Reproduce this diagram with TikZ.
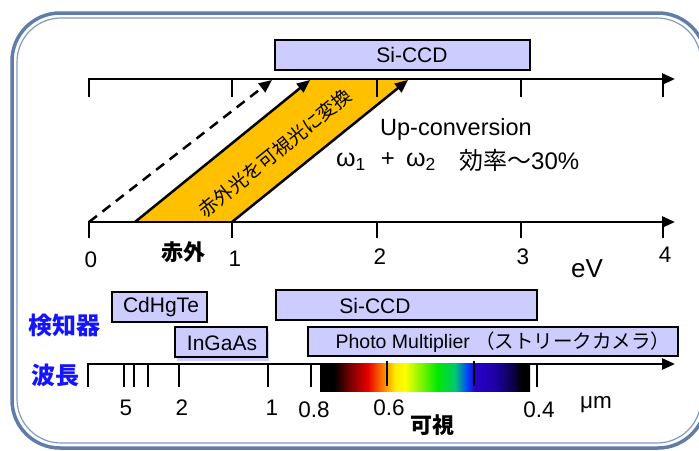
\documentclass[tikz,border=0pt]{standalone}
\usepackage{fontspec}
\setmainfont{Liberation Sans}
\newfontfamily\cjk{Noto Sans CJK JP}
\usetikzlibrary{arrows.meta}
\definecolor{lav}{RGB}{204,204,255}
\definecolor{bandc}{RGB}{255,192,0}
\definecolor{frameA}{RGB}{96,124,168}
\definecolor{frameB}{RGB}{130,155,195}
\definecolor{lblue}{RGB}{20,20,255}
\definecolor{s1}{RGB}{120,0,0}
\definecolor{s2}{RGB}{230,0,0}
\definecolor{s3}{RGB}{255,120,0}
\definecolor{s4}{RGB}{255,235,0}
\definecolor{s5}{RGB}{255,255,0}
\definecolor{s6}{RGB}{0,235,0}
\definecolor{s7}{RGB}{0,200,110}
\definecolor{s8}{RGB}{0,70,255}
\definecolor{s9}{RGB}{40,0,200}
\definecolor{s10}{RGB}{30,0,165}
\definecolor{s11}{RGB}{10,0,60}
\pgfdeclarehorizontalshading{spectrum}{100bp}{color(0bp)=(black); color(25bp)=(black); color(28.3bp)=(black); color(32.1bp)=(s1); color(36.4bp)=(s2); color(39.8bp)=(s3); color(42.9bp)=(s4); color(45.2bp)=(s5); color(52.9bp)=(s6); color(57.1bp)=(s7); color(60bp)=(s8); color(61.9bp)=(s9); color(66.7bp)=(s10); color(71.4bp)=(s11); color(72.9bp)=(black); color(75bp)=(black); color(100bp)=(black)}
\begin{document}
\begin{tikzpicture}[x=1pt,y=-1pt,
  ax/.style={line width=2.8pt, line join=miter},
  tipd/.style={-{Triangle[length=13pt,width=11pt]}},
  box/.style={draw, line width=2.8pt, fill=lav},
  lbl/.style={font=\fontsize{21}{24}\selectfont, inner sep=0pt},
  num/.style={font=\fontsize{22.5}{25}\selectfont, inner sep=0pt},
  jbold/.style={font=\cjk\bfseries\fontsize{22}{25}\selectfont, inner sep=0pt},
  jblue/.style={font=\cjk\bfseries\fontsize{24}{27}\selectfont, text=lblue, inner sep=0pt},
  omg/.style={font=\fontsize{25}{28}\selectfont, inner sep=0pt, anchor=west}]
\useasboundingbox (0,0) rectangle (699,450);
% frame
\draw[line width=3.5pt, frameA, rounded corners=48pt] (12,13) rectangle (706,448);
\draw[line width=1.2pt, frameB, rounded corners=44pt] (17,18) rectangle (701,443);
% top Si-CCD
\draw[box] (275,40) rectangle (530,70);
\node[lbl] (sitop) at (412,55) {Si-CCD};
% band
\coordinate (bl) at (135,222);
\coordinate (br) at (232,222);
\coordinate (tl) at (310,80);
\coordinate (tr) at (408,80);
\coordinate (d0) at (89,222);
\coordinate (d1) at (272,80);
\fill[bandc] (bl) -- (br) -- (tr) -- (tl) -- cycle;
\draw[line width=2.5pt, tipd] (bl) -- (tl);
\draw[line width=2.5pt, tipd] (br) -- (tr);
\draw[line width=2.5pt, dash pattern=on 10pt off 7pt, tipd] (d0) -- (d1);
\node[font=\cjk\fontsize{19}{22}\selectfont, rotate=39, inner sep=0pt] (conv) at (275,153) {赤外光を可視光に変換};
% top axis
\coordinate (ta0) at (89,79);
\coordinate (ta1) at (675,79);
\draw[ax, tipd] (89,97) -- (ta0) -- (ta1);
\foreach \x in {232,377,521,663} \draw[ax] (\x,79) -- (\x,97);
% bottom eV axis
\coordinate (ba0) at (89,222);
\coordinate (ba1) at (675,222);
\draw[ax, tipd] (89,238) -- (ba0) -- (ba1);
\foreach \x in {232,377,521,663} \draw[ax] (\x,222) -- (\x,238);
\node[num] (e0) at (91,260) {0};
\node[num] (e1) at (235,259) {1};
\node[num] (e2) at (380,257) {2};
\node[num] (e3) at (523,257) {3};
\node[num] (e4) at (665,255) {4};
\node[font=\fontsize{26}{29}\selectfont, inner sep=0pt] (ev) at (587,269) {eV};
\node[jbold] (ir) at (183,252) {赤外};
% up-conversion text
\node[font=\fontsize{23.5}{26}\selectfont, inner sep=0pt, anchor=west] (up) at (380,129) {Up-conversion};
\node[omg] (w1) at (336,162) {ω\textsubscript{1}};
\node[font=\fontsize{24}{27}\selectfont, inner sep=0pt] (plus) at (388,160) {+};
\node[omg] (w2) at (406,162) {ω\textsubscript{2}};
\node[font=\fontsize{24}{27}\selectfont, inner sep=0pt, anchor=west] (eff) at (459,160) {{\cjk 効率～}30\%};
% left labels
\node[jblue] (det) at (64,325) {検知器};
\node[jblue] (wl) at (55,375) {波長};
% detector boxes
\fill[lav] (177,331) rectangle (269,361);
\draw[box] (112,292) rectangle (207,322);
\node[lbl] (cd) at (161,307) {CdHgTe};
\draw[box] (175,327) rectangle (267,357);
\node[lbl] (ing) at (222,343) {InGaAs};
\draw[box] (276,290) rectangle (537,320);
\node[lbl] (sib) at (375,306) {Si-CCD};
\draw[box] (308,327) rectangle (678,356);
\node[font=\fontsize{19.5}{22}\selectfont, inner sep=0pt] (pm) at (503,342) {Photo Multiplier {\cjk （ストリークカメラ）}};
% wavelength axis
\coordinate (wa0) at (88,364);
\coordinate (wa1) at (675,364);
\draw[ax, tipd] (88,387) -- (wa0) -- (wa1);
\foreach \x in {124,134,148,179,268,311,537} \draw[ax] (\x,364) -- (\x,387);
\shade[shading=spectrum] (320,363) rectangle (530,391);
\foreach \x in {387,474} \draw[ax] (\x,361) -- (\x,386);
\node[num] (l5) at (126,408) {5};
\node[num] (l2) at (182,408) {2};
\node[num] (l1) at (272,408) {1};
\node[num] (l08) at (314,410) {0.8};
\node[num] (l06) at (389,408) {0.6};
\node[num] (l04) at (539,410) {0.4};
\node[num] (um) at (596,405) {μm};
\node[jbold] (vis) at (432,425) {可視};
\end{tikzpicture}
\end{document}
